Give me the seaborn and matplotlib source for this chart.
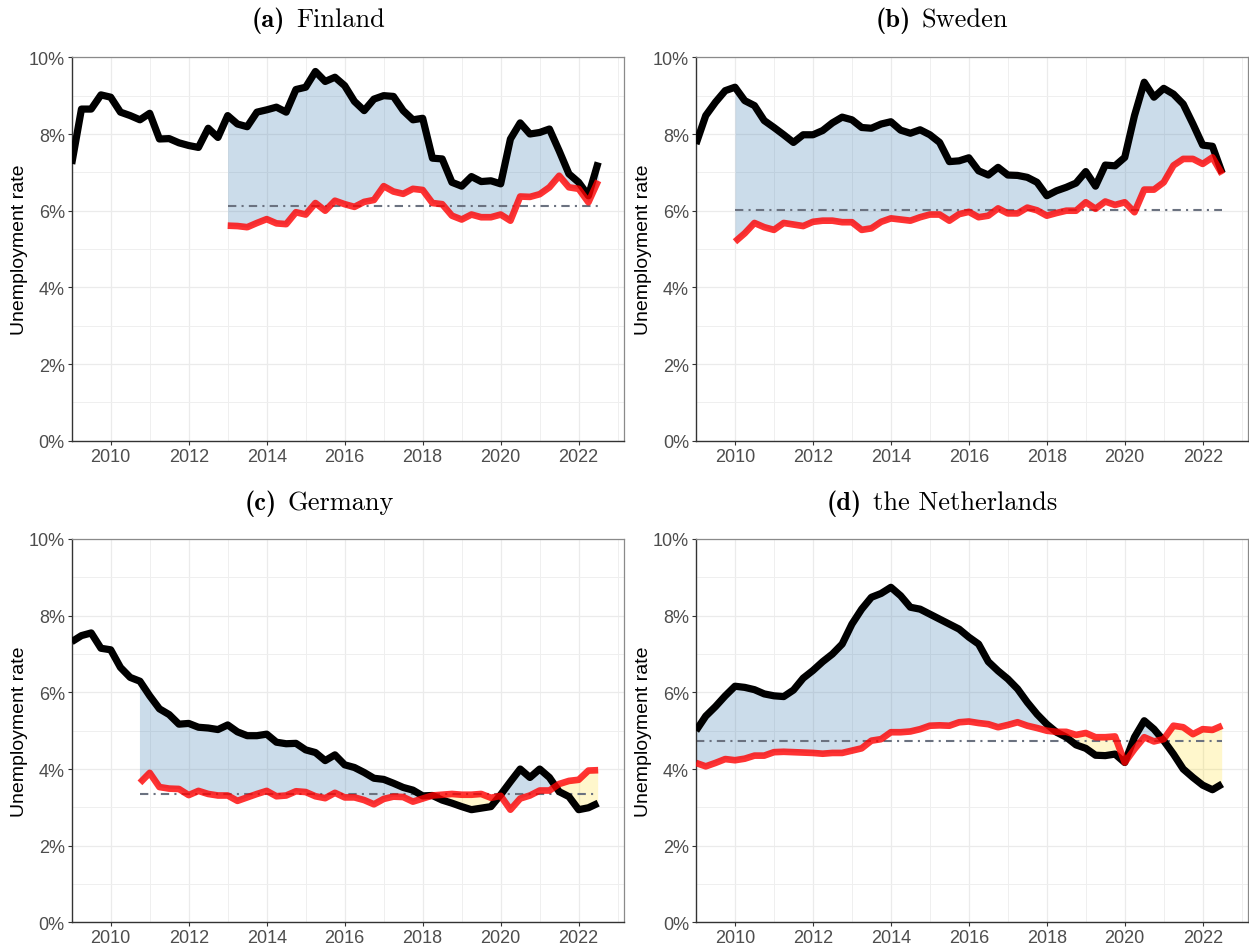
import numpy as np
import matplotlib
matplotlib.use("Agg")
import matplotlib.pyplot as plt
from matplotlib.ticker import MultipleLocator, FuncFormatter
import seaborn as sns

# ---------------------------------------------------------------------------
# Quarterly unemployment rates (%), first quarter 2009 to third quarter 2022
# ---------------------------------------------------------------------------
first_quarter = 2009.0
n_quarters = 55

finland_actual = [
    7.22, 8.65, 8.65, 9.02, 8.96, 8.57, 8.48, 8.37, 8.54, 7.87, 7.88, 7.77,
    7.70, 7.65, 8.15, 7.91, 8.48, 8.26, 8.19, 8.57, 8.63, 8.70, 8.57, 9.16,
    9.22, 9.63, 9.37, 9.48, 9.26, 8.85, 8.61, 8.91, 9.00, 8.98, 8.61, 8.37,
    8.41, 7.37, 7.35, 6.74, 6.64, 6.89, 6.76, 6.78, 6.70, 7.87, 8.29, 8.00,
    8.04, 8.13, 7.56, 6.96, 6.74, 6.39, 7.26,
]
finland_model_start = 2013.0
finland_model = [
    5.61, 5.60, 5.57, 5.68, 5.78, 5.67, 5.65, 5.96, 5.90, 6.20, 6.00, 6.26,
    6.17, 6.10, 6.23, 6.28, 6.64, 6.50, 6.44, 6.57, 6.54, 6.20, 6.17, 5.87,
    5.77, 5.90, 5.83, 5.83, 5.90, 5.74, 6.37, 6.36, 6.43, 6.61, 6.91, 6.61,
    6.57, 6.22, 6.78,
]
finland_reference = 6.13

sweden_actual = [
    7.74, 8.48, 8.83, 9.13, 9.22, 8.87, 8.74, 8.35, 8.17, 7.98, 7.78, 7.98,
    7.98, 8.09, 8.29, 8.44, 8.37, 8.17, 8.15, 8.26, 8.32, 8.10, 8.02, 8.11,
    7.98, 7.78, 7.28, 7.30, 7.38, 7.04, 6.93, 7.13, 6.93, 6.92, 6.87, 6.74,
    6.39, 6.52, 6.61, 6.72, 7.02, 6.64, 7.19, 7.17, 7.39, 8.48, 9.35, 8.96,
    9.19, 9.04, 8.78, 8.26, 7.71, 7.68, 6.98,
]
sweden_model_start = 2010.0
sweden_model = [
    5.19, 5.41, 5.68, 5.57, 5.50, 5.68, 5.64, 5.60, 5.71, 5.74, 5.74, 5.70,
    5.70, 5.50, 5.54, 5.71, 5.80, 5.77, 5.74, 5.83, 5.90, 5.90, 5.74, 5.91,
    5.97, 5.83, 5.87, 6.06, 5.93, 5.93, 6.08, 6.01, 5.87, 5.94, 6.00, 6.00,
    6.22, 6.05, 6.24, 6.15, 6.22, 5.96, 6.55, 6.55, 6.74, 7.18, 7.35, 7.35,
    7.22, 7.39, 6.95,
]
sweden_reference = 6.02

germany_actual = [
    7.32, 7.48, 7.55, 7.15, 7.11, 6.65, 6.39, 6.29, 5.91, 5.57, 5.42, 5.17,
    5.19, 5.09, 5.07, 5.03, 5.15, 4.97, 4.87, 4.87, 4.91, 4.70, 4.66, 4.67,
    4.50, 4.43, 4.22, 4.37, 4.11, 4.04, 3.91, 3.76, 3.73, 3.63, 3.52, 3.45,
    3.30, 3.31, 3.19, 3.11, 3.02, 2.94, 2.98, 3.02, 3.33, 3.67, 4.00, 3.78,
    4.00, 3.78, 3.41, 3.28, 2.94, 2.99, 3.11,
]
germany_model_start = 2010.75
germany_model = [
    3.64, 3.90, 3.53, 3.49, 3.48, 3.32, 3.43, 3.35, 3.31, 3.31, 3.17, 3.26,
    3.35, 3.43, 3.29, 3.31, 3.42, 3.40, 3.29, 3.24, 3.38, 3.26, 3.26, 3.19,
    3.08, 3.22, 3.28, 3.27, 3.15, 3.23, 3.31, 3.33, 3.35, 3.33, 3.33, 3.35,
    3.25, 3.30, 2.94, 3.23, 3.31, 3.44, 3.44, 3.61, 3.69, 3.72, 3.96, 3.97,
]
germany_reference = 3.35

netherlands_actual = [
    5.00, 5.38, 5.63, 5.91, 6.16, 6.13, 6.07, 5.96, 5.91, 5.89, 6.06, 6.37,
    6.57, 6.80, 7.00, 7.26, 7.78, 8.17, 8.48, 8.58, 8.74, 8.52, 8.22, 8.17,
    8.04, 7.91, 7.78, 7.65, 7.44, 7.26, 6.80, 6.56, 6.35, 6.09, 5.74, 5.43,
    5.17, 4.96, 4.83, 4.63, 4.54, 4.36, 4.35, 4.39, 4.17, 4.83, 5.26, 5.04,
    4.74, 4.39, 4.00, 3.78, 3.58, 3.46, 3.61,
]
netherlands_model_start = 2009.0
netherlands_model = [
    4.16, 4.07, 4.16, 4.26, 4.23, 4.27, 4.35, 4.35, 4.44, 4.45, 4.44, 4.43,
    4.42, 4.40, 4.42, 4.42, 4.48, 4.54, 4.74, 4.78, 4.96, 4.96, 4.98, 5.04,
    5.13, 5.14, 5.13, 5.22, 5.24, 5.20, 5.17, 5.09, 5.15, 5.22, 5.13, 5.07,
    5.00, 4.97, 4.97, 4.89, 4.94, 4.83, 4.83, 4.85, 4.17, 4.52, 4.83, 4.72,
    4.78, 5.13, 5.09, 4.91, 5.04, 5.02, 5.13,
]
netherlands_reference = 4.74

panel_letters = ["(a)", "(b)", "(c)", "(d)"]
panel_countries = ["Finland", "Sweden", "Germany", "the Netherlands"]

year_ticks = [2010, 2012, 2014, 2016, 2018, 2020, 2022]
rate_ticks = [0, 2, 4, 6, 8, 10]

# ---------------------------------------------------------------------------
sns.set_theme(style="whitegrid")
plt.rcParams["font.family"] = ["Liberation Sans", "DejaVu Sans"]

W, H = 1249, 945
fig = plt.figure(figsize=(W / 100, H / 100), dpi=100)

quarters = first_quarter + 0.25 * np.arange(n_quarters)

panels = [
    (finland_actual, finland_model, finland_model_start, finland_reference),
    (sweden_actual, sweden_model, sweden_model_start, sweden_reference),
    (germany_actual, germany_model, germany_model_start, germany_reference),
    (netherlands_actual, netherlands_model, netherlands_model_start, netherlands_reference),
]

# axes boxes in pixels: (left, top, right, bottom)
boxes = [
    (71.7, 58.3, 624.3, 441.8),
    (696.0, 58.3, 1248.3, 441.8),
    (71.7, 540.0, 624.3, 923.4),
    (696.0, 540.0, 1248.3, 923.4),
]
# caption centre x and baseline y, in pixels
caption_pos = [(318, 27), (942, 27), (319, 510), (942, 510)]

fill_above = "#4682b4"
fill_below = "#ffd700"

for i, (actual, model, model_start, ref) in enumerate(panels):
    l, t, r, b = boxes[i]
    ax = fig.add_axes([l / W, 1 - b / H, (r - l) / W, (b - t) / H])

    actual = np.asarray(actual)
    model = np.asarray(model)
    x_model = model_start + 0.25 * np.arange(len(model))
    k0 = int(round((model_start - first_quarter) / 0.25))
    act_sub = actual[k0:k0 + len(model)]

    ax.fill_between(x_model, act_sub, model, where=act_sub >= model,
                    interpolate=True, color=fill_above, alpha=0.28, lw=0, zorder=1)
    ax.fill_between(x_model, act_sub, model, where=act_sub < model,
                    interpolate=True, color=fill_below, alpha=0.2, lw=0, zorder=1)

    sns.lineplot(x=[x_model[0], x_model[-1]], y=[ref, ref], ax=ax,
                 color="#6b7280", lw=1.5, linestyle=(0, (4, 2.5, 1, 2.5)), zorder=2)
    sns.lineplot(x=quarters, y=actual, ax=ax, color="black", lw=5.2,
                 solid_joinstyle="round", solid_capstyle="butt", zorder=3)
    sns.lineplot(x=x_model, y=model, ax=ax, color="#ff0000", alpha=0.8, lw=4.8,
                 solid_joinstyle="round", solid_capstyle="butt", zorder=4)

    ax.set_xlim(2009.0, 2023.17)
    ax.set_ylim(0, 10)
    ax.set_xticks(year_ticks)
    ax.set_yticks(rate_ticks)
    ax.xaxis.set_minor_locator(MultipleLocator(1))
    ax.yaxis.set_minor_locator(MultipleLocator(1))
    ax.yaxis.set_major_formatter(FuncFormatter(lambda v, p: f"{int(round(v))}%"))
    ax.xaxis.set_major_formatter(FuncFormatter(lambda v, p: f"{int(round(v))}"))

    ax.set_facecolor("white")
    ax.grid(which="major", color="#ebebeb", lw=0.9, zorder=0)
    ax.grid(which="minor", color="#efefef", lw=0.7, zorder=0)
    ax.set_axisbelow(True)

    for side in ("top", "right"):
        ax.spines[side].set_color("#8a8a8a")
        ax.spines[side].set_linewidth(0.9)
    for side in ("left", "bottom"):
        ax.spines[side].set_color("#333333")
        ax.spines[side].set_linewidth(1.0)

    ax.tick_params(axis="both", which="major", length=3, width=0.8, color="#333333",
                   labelsize=13, labelcolor="#4d4d4d", pad=2,
                   left=True, bottom=True)
    ax.tick_params(axis="both", which="minor", length=0)
    ax.set_xlabel("")
    ax.set_ylabel("Unemployment rate", fontsize=14, color="black", labelpad=0.5)

# Sub-captions: bold letter followed by the country name, in Computer Modern
fig.canvas.draw()
renderer = fig.canvas.get_renderer()
cap_size = 19
gap_px = 11
for i in range(4):
    cx, by = caption_pos[i]
    t1 = fig.text(0, 1 - by / H, panel_letters[i], fontfamily="cmb10",
                  fontsize=cap_size, ha="left", va="baseline", color="black")
    t2 = fig.text(0, 1 - by / H, panel_countries[i], fontfamily="cmr10",
                  fontsize=cap_size, ha="left", va="baseline", color="black")
    w1 = t1.get_window_extent(renderer).width
    w2 = t2.get_window_extent(renderer).width
    x0 = cx - (w1 + gap_px + w2) / 2
    t1.set_x(x0 / W)
    t2.set_x((x0 + w1 + gap_px) / W)

fig.savefig("out.png", dpi=100, facecolor="white")
